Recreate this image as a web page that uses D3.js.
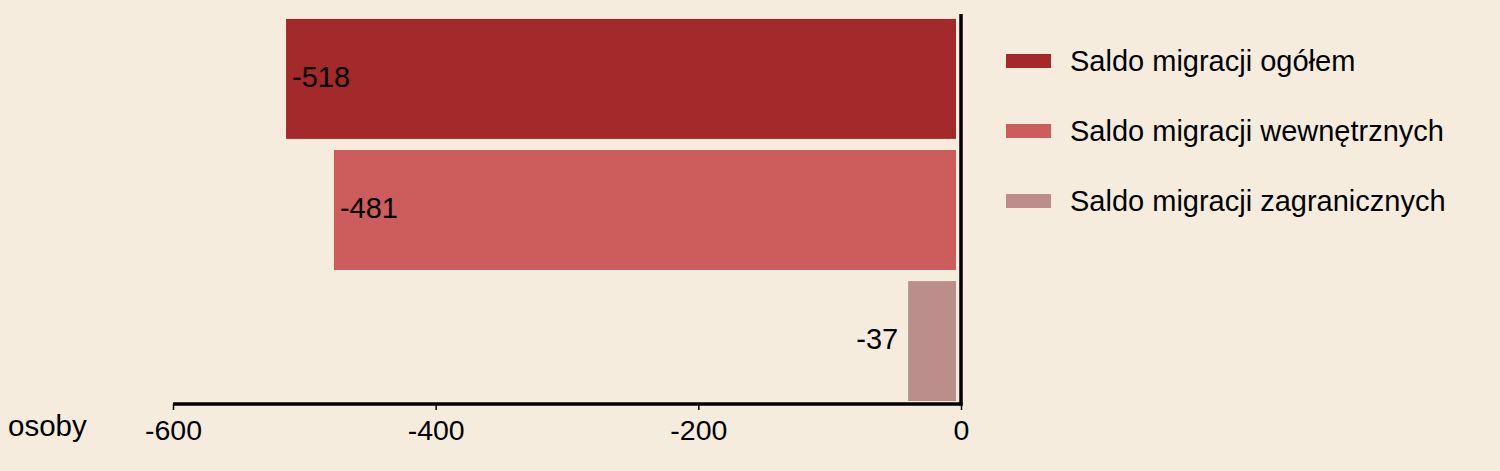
<!DOCTYPE html>
<html><head><meta charset="utf-8">
<script src="https://cdn.jsdelivr.net/npm/d3@7"></script>
<style>html,body{margin:0;padding:0;background:#F5ECDE;}svg{display:block;font-family:"Liberation Sans",Arial,sans-serif;}</style>
</head><body>
<script>
const categories = ["Saldo migracji ogółem","Saldo migracji wewnętrznych","Saldo migracji zagranicznych"];
const values = [-518,-481,-37];
const colors = ["#A4292B","#CD5D5C","#BB8E8C"];
const tickValues = [-600,-400,-200,0];
const unitLabel = "osoby";

const W=1500,H=471;
const svg=d3.select("body").append("svg").attr("width",W).attr("height",H);
svg.append("rect").attr("width",W).attr("height",H).attr("fill","#F5ECDE");

const x=d3.scaleLinear().domain([-600,0]).range([173,961]);
const xb=d3.scaleLinear().domain([-600,0]).range([180,956]);
const y=d3.scaleBand().domain(categories).range([15,405]).paddingInner(0.085).paddingOuter(0.03);
const fs=28.5;

// bars
svg.selectAll("rect.bar").data(values).join("rect").attr("class","bar")
 .attr("x",d=>xb(d)).attr("y",(d,i)=>y(categories[i]))
 .attr("width",d=>xb(0)-xb(d)).attr("height",y.bandwidth())
 .attr("fill",(d,i)=>colors[i]);

// value labels
svg.selectAll("text.val").data(values).join("text").attr("class","val")
 .attr("x",(d,i)=> i<2 ? xb(d)+6 : xb(d)-10)
 .attr("y",(d,i)=>y(categories[i])+y.bandwidth()/2-2)
 .attr("dy","0.35em")
 .attr("text-anchor",(d,i)=> i<2?"start":"end")
 .attr("font-size",29).attr("fill","#000").text(d=>d);

// axes
const xAxis=d3.axisBottom(x).tickValues(tickValues).tickSize(6).tickPadding(10).tickFormat(d3.format("d"));
const gx=svg.append("g").attr("transform","translate(0,404)").call(xAxis);
gx.select(".domain").remove();
gx.selectAll(".tick line").attr("stroke","#000").attr("stroke-width",1.5);
gx.selectAll(".tick text").attr("font-size",fs).attr("fill","#000").attr("font-family","Liberation Sans, Arial, sans-serif").text(d=>d===0?"0":String(d));
svg.append("line").attr("x1",x(-600)).attr("x2",x(0)+1.5).attr("y1",404).attr("y2",404).attr("stroke","#000").attr("stroke-width",3.5);
svg.append("line").attr("x1",x(0)).attr("x2",x(0)).attr("y1",14).attr("y2",405.5).attr("stroke","#000").attr("stroke-width",3.5);

svg.append("text").attr("x",8).attr("y",436).attr("font-size",29.5).attr("fill","#000").text(unitLabel);

// legend
const lg=svg.append("g");
categories.forEach((c,i)=>{
  const cy=61+i*70;
  lg.append("rect").attr("x",1006).attr("y",cy-7).attr("width",45).attr("height",14).attr("fill",colors[i]);
  lg.append("text").attr("x",1070).attr("y",cy).attr("dy","0.35em").attr("font-size",29).attr("fill","#000").text(c);
});
</script>
</body></html>
